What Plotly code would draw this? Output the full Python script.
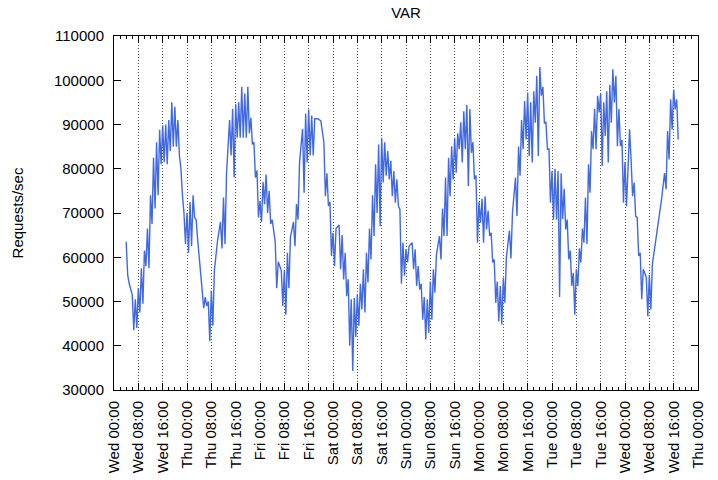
import plotly.graph_objects as go

# ---- data ----
# hourly samples, hours since Wed 00:00
hours = list(range(4, 186))
# level at the top of each hour
upper = [
    63500, 54000, 51500, 50500, 53000, 57500, 61500, 66500, 74000, 82500,   # 4-13
    86000, 88800, 89800, 90000, 91000, 95000, 94000, 91000, 80000, 70000,   # 14-23
    70000, 72500, 74000, 68500, 60500, 52500, 51000, 50000, 52500, 57000,   # 24-33
    63500, 68000, 73500, 79000, 91000, 93500, 94600, 95000, 98500, 97000,   # 34-43
    98500, 91500, 86000, 79600, 72700, 77000, 78700, 75000, 68500, 63500,   # 44-53
    59000, 57000, 57000, 61000, 64500, 68000, 72000, 81500, 89000, 92500,   # 54-63
    93400, 92000, 91300, 91300, 90800, 86000, 79000, 72500, 65500, 66500,   # 64-73
    67300, 65000, 61000, 55000, 50500, 50800, 51500, 54000, 57300, 61000,   # 74-83
    66500, 74000, 81000, 85500, 87000, 86000, 84000, 81800, 79500, 77600,   # 84-93
    70800, 63300, 61800, 62500, 63300, 61800, 58000, 54000, 51000, 50500,   # 94-103
    54500, 57300, 60500, 64800, 71000, 78000, 82500, 85100, 87000, 88000,   # 104-113
    90500, 93000, 94400, 93500, 86000, 78500, 72500, 73200, 73800, 70500,   # 114-123
    65500, 59500, 54500, 53500, 55400, 60000, 66000, 70000, 78000, 85000,   # 124-133
    91000, 95300, 97200, 95000, 97500, 101000, 103000, 98500, 90500, 84500, # 134-143
    79500, 80000, 79500, 79000, 75500, 68500, 61500, 56500, 57300, 62000,   # 144-153
    66500, 73500, 81000, 88500, 93500, 96500, 97000, 95000, 97500, 99000,   # 154-163
    102500, 101000, 93500, 86500, 81500, 83000, 82100, 76900, 69000, 61000, # 164-173
    57300, 55500, 56000, 58500, 63300, 67800, 73000, 79000, 88500, 95700,   # 174-183
    97900, 95700,                                                           # 184-185
]
# short drops sampled at half past each hour (None = no drop)
lower = [
    56000, None, 43500, 44000, 47500, 49500, 58000, 57500, 67500, 71000,    # 4-13
    74000, 81000, 81500, 81000, 84000, 85000, 85000, 83000, 74000, 63000,   # 14-23
    61000, 62500, 69000, 64000, 56000, 48500, 49000, 41000, 44500, None,    # 24-33
    None, 62000, 63000, None, 83000, 78000, 87000, 87000, 87000, 87000,     # 34-43
    88000, 85500, 78000, 69000, 68000, 72000, 70000, 67500, None, 53000,    # 44-53
    None, 49000, 47000, 53000, None, 62500, 68500, None, 74600, 81400,      # 54-63
    83000, 83000, None, None, None, 73800, 71600, 60300, 58000, None,       # 64-73
    57300, 55000, 51200, 40000, 34300, 42000, 44500, 48200, 47500, 54300,   # 74-83
    59500, 64800, 70000, 67000, 76900, 78400, 77600, 73800, 72300, 71600,   # 84-93
    54000, 55800, 58800, None, 57300, 53500, 52700, 45900, 41400, 42900,    # 94-103
    45900, 52000, None, 59500, 64800, 64800, 73800, 77600, 79100, 84400,    # 104-113
    81400, 84400, 76100, 83600, 77600, 63300, 67800, 63300, 66300, 64800,   # 114-123
    58800, 49700, 45500, 44800, 49700, None, 59700, None, 69300, 78400,     # 124-133
    84400, 86600, 82900, 81400, 90400, 82900, 96500, 90400, 84400, 72300,   # 134-143
    68500, 68500, 51000, 68600, 66300, 59500, 53500, 47000, 53500, 58800,   # 144-153
    63300, 63000, 74600, 84400, 84400, 92700, 80600, 87400, 81400, 90400,   # 154-163
    95000, 85100, 85100, 72300, 71600, 88900, 73800, 69300, 60300, 50500,   # 164-173
    None, 46700, 48200, None, None, None, None, 75400, 82100, 88900,        # 174-183
    93400, 86600,                                                           # 184-185
]

tick_hours = list(range(0, 193, 8))
tick_labels = [
    "Wed 00:00", "Wed 08:00", "Wed 16:00",
    "Thu 00:00", "Thu 08:00", "Thu 16:00",
    "Fri 00:00", "Fri 08:00", "Fri 16:00",
    "Sat 00:00", "Sat 08:00", "Sat 16:00",
    "Sun 00:00", "Sun 08:00", "Sun 16:00",
    "Mon 00:00", "Mon 08:00", "Mon 16:00",
    "Tue 00:00", "Tue 08:00", "Tue 16:00",
    "Wed 00:00", "Wed 08:00", "Wed 16:00",
    "Thu 00:00",
]

# ---- build the sample sequence ----
xs, ys = [], []
for h, u, l in zip(hours, upper, lower):
    xs.append(h)
    ys.append(u)
    if l is not None:
        xs.append(h + 0.5)
        ys.append(l)

FONT = "Liberation Sans, Arial, sans-serif"

fig = go.Figure()
fig.add_trace(go.Scatter(
    x=xs, y=ys, mode="lines",
    line=dict(color="#4169E1", width=1.4),
    hoverinfo="skip", showlegend=False,
))

fig.update_layout(
    width=718, height=480,
    margin=dict(l=114, r=20, t=36, b=90, autoexpand=False),
    paper_bgcolor="white", plot_bgcolor="white",
    font=dict(family=FONT, size=15, color="black"),
    title=dict(text="VAR", x=(114 + 698) / 2 / 718, xanchor="center",
               y=1 - 13 / 480, yanchor="middle",
               font=dict(family=FONT, size=15, color="black")),
    showlegend=False,
)

fig.update_xaxes(
    range=[0, 192],
    tickmode="array", tickvals=tick_hours, ticktext=tick_labels,
    tickangle=-90,
    ticks="inside", ticklen=7, tickcolor="black", tickwidth=1,
    ticklabelstandoff=4,
    showline=True, linecolor="black", linewidth=1, mirror="allticks",
    showgrid=True, gridcolor="#555555", griddash="1px,2px", gridwidth=1,
    zeroline=False,
    minor=dict(tickmode="linear", tick0=0, dtick=2, ticks="inside",
               ticklen=3, tickcolor="black", showgrid=False),
    tickfont=dict(family=FONT, size=15, color="black"),
    automargin=False,
)
fig.update_yaxes(
    range=[30000, 110000],
    tickmode="linear", tick0=30000, dtick=10000,
    ticks="inside", ticklen=7, tickcolor="black", tickwidth=1,
    ticklabelstandoff=6,
    showline=True, linecolor="black", linewidth=1, mirror="allticks",
    showgrid=False, zeroline=False,
    tickformat="d",
    tickfont=dict(family=FONT, size=15, color="black"),
    title=dict(text="Requests/sec", standoff=26,
               font=dict(family=FONT, size=15, color="black")),
    automargin=False,
)

# remove the page's default 8px body margin so the figure fills the window
fig.write_html("out.html",
               config={"displayModeBar": False, "staticPlot": True},
               post_script="document.body.style.margin='0';"
                           "document.body.style.overflow='hidden';")
